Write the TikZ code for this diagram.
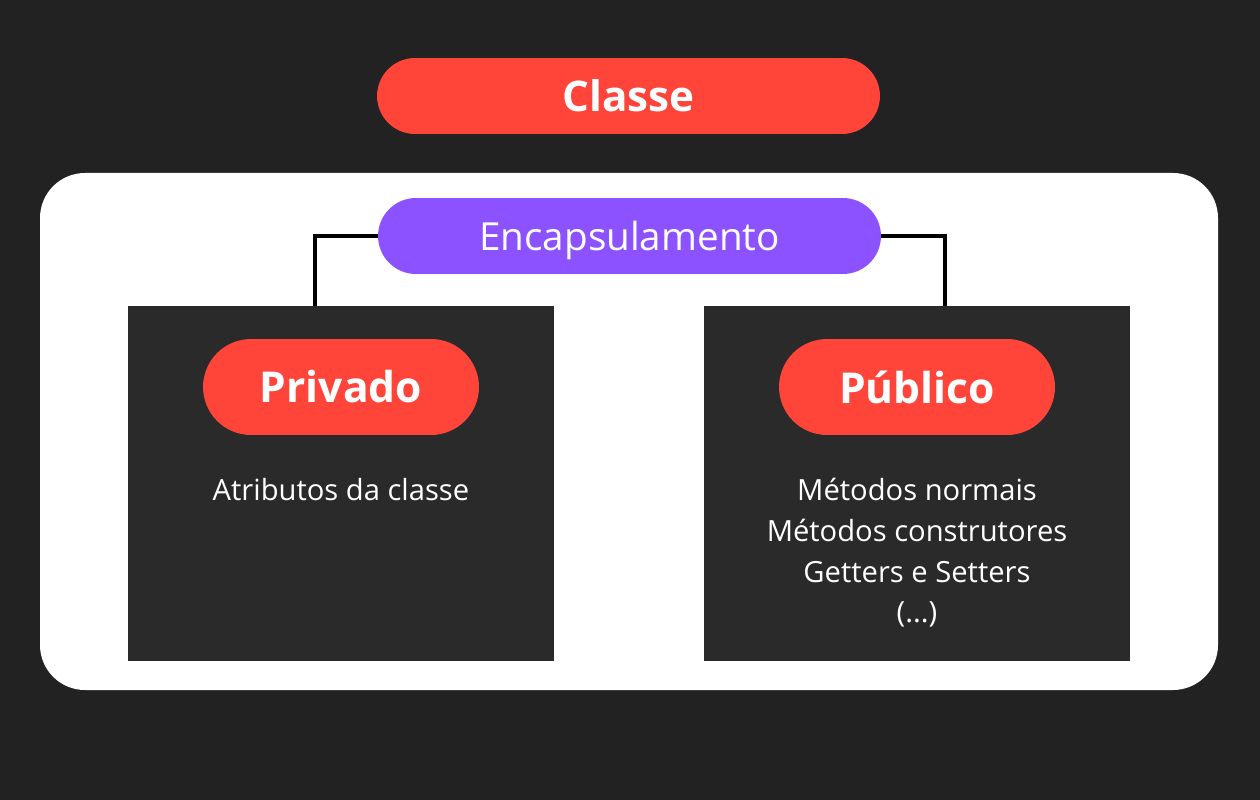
\documentclass[tikz,border=0pt]{standalone}
\usepackage{fontspec}
\setmainfont{Open Sans}
\usetikzlibrary{positioning}

\definecolor{bgdark}{HTML}{222222}
\definecolor{boxdark}{HTML}{2A2A2A}
\definecolor{pillred}{HTML}{FF443A}
\definecolor{pillpurple}{HTML}{8C52FF}

\tikzset{
    redpill/.style={fill=pillred, text=white, font=\bfseries\fontsize{24}{28}\selectfont, rounded corners=0.76cm, minimum width=10.06cm, minimum height=1.52cm},
    purplepill/.style={fill=pillpurple, text=white, font=\fontsize{22}{26}\selectfont, text depth=0pt, rounded corners=0.76cm, minimum width=10.06cm, minimum height=1.52cm},
    sidepill/.style={fill=pillred, text=white, font=\bfseries\fontsize{24.2}{28}\selectfont, rounded corners=0.96cm, minimum width=5.52cm, minimum height=1.92cm},
    darkbox/.style={fill=boxdark, minimum width=8.52cm, minimum height=7.1cm, anchor=north west},
    itemtext/.style={text=white, font=\fontsize{16.6}{23.2}\selectfont, align=center, anchor=north}
}

\begin{document}
\begin{tikzpicture}[x=0.02cm, y=-0.02cm]
    \useasboundingbox[fill=bgdark] (0,0) rectangle (1260,800);
    \fill[white, rounded corners=0.9cm] (40,173) rectangle (1218,690);

    \node[redpill] (classe) at (628.5,96) {Classe};
    \node[purplepill] (encap) at (629.5,236) {Encapsulamento};

    \node[darkbox] (lbox) at (128,306) {};
    \node[darkbox] (rbox) at (704,306) {};

    \node[sidepill] (privado) at (341,387) {Privado};
    \node[sidepill] (publico) at (917,387) {Público};

    \node[itemtext] (attr) at (341,472) {Atributos da classe};
    \node[itemtext] (metodos) at (917,472) {Métodos normais\\Métodos construtores\\Getters e Setters\\(...)};

    % ligacoes
    \coordinate (lj) at (315,306);
    \coordinate (rj) at (945,306);
    \draw[line width=2pt] (encap.west) -| (lj);
    \draw[line width=2pt] (encap.east) -| (rj);
\end{tikzpicture}
\end{document}
